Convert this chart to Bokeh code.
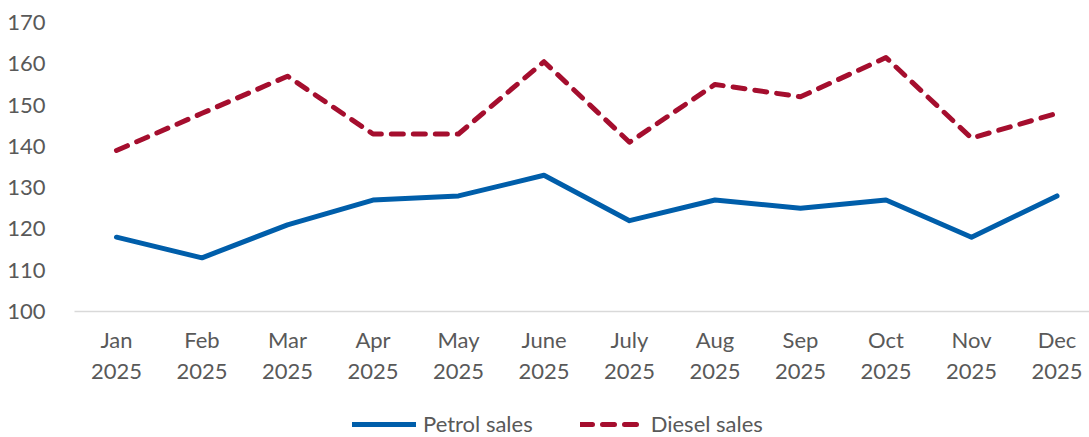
from bokeh.plotting import figure
from bokeh.models import Range1d, FixedTicker, Legend, LegendItem
from bokeh.layouts import column
from bokeh.embed import file_html
from bokeh.resources import INLINE

months = ["Jan", "Feb", "Mar", "Apr", "May", "June", "July", "Aug", "Sep", "Oct", "Nov", "Dec"]
year = "2025"
petrol = [118, 113, 121, 127, 128, 133, 122, 127, 125, 127, 118, 128]
diesel = [139, 148, 157, 143, 143, 160.5, 141, 155, 152, 161.5, 142, 148]
y_ticks = [100, 110, 120, 130, 140, 150, 160, 170]
series_names = ["Petrol sales", "Diesel sales"]

FONT = "Lato"
FS = "22px"
TXT = "#595959"
BLUE = "#005EAA"
RED = "#A50E2E"

xs = list(range(len(months)))

p = figure(width=1089, height=390, output_backend="svg", toolbar_location=None,
           x_range=Range1d(-0.491, 11.38), y_range=Range1d(100, 170),
           min_border_left=74, min_border_right=0, min_border_top=22, min_border_bottom=79)
p.outline_line_color = None
p.grid.visible = False
p.background_fill_color = "white"

line_styles = [dict(line_color=BLUE, line_width=5, line_cap="round", line_join="round"),
               dict(line_color=RED, line_width=5, line_cap="round", line_join="round",
                    line_dash="12 10")]

p.line(xs, petrol, **line_styles[0])
p.line(xs, diesel, **line_styles[1])

p.yaxis.ticker = FixedTicker(ticks=y_ticks)
p.yaxis.axis_line_color = None
p.yaxis.major_tick_line_color = None
p.yaxis.minor_tick_line_color = None
p.yaxis.major_label_standoff = 23
p.yaxis.major_label_text_font = FONT
p.yaxis.major_label_text_font_size = FS
p.yaxis.major_label_text_color = TXT

p.xaxis.ticker = FixedTicker(ticks=xs)
p.xaxis.major_label_overrides = {i: f"{m}\n{year}" for i, m in enumerate(months)}
p.xaxis.axis_line_color = "#d9d9d9"
p.xaxis.axis_line_width = 1.5
p.xaxis.major_tick_line_color = None
p.xaxis.minor_tick_line_color = None
p.xaxis.major_label_standoff = 8
p.xaxis.major_label_text_font = FONT
p.xaxis.major_label_text_font_size = FS
p.xaxis.major_label_text_color = TXT
p.xaxis.major_label_text_line_height = 1.15

# legend strip below the chart (its frame is aligned with the chart's frame by the column)
lg = figure(width=1089, height=47, output_backend="svg", toolbar_location=None,
            x_axis_type=None, y_axis_type=None,
            x_range=Range1d(100, 101), y_range=Range1d(0, 1),
            min_border_left=0, min_border_right=0, min_border_top=0, min_border_bottom=0)
lg.outline_line_color = None
lg.grid.visible = False
lr1 = lg.line(xs, petrol, **line_styles[0])
lr2 = lg.line(xs, diesel, **line_styles[1])

legend = Legend(items=[LegendItem(label=series_names[0], renderers=[lr1]),
                       LegendItem(label=series_names[1], renderers=[lr2])],
                location=(278, 0), orientation="horizontal",
                border_line_alpha=0, background_fill_alpha=0, padding=0, margin=0,
                spacing=47, glyph_width=64, glyph_height=20, label_height=20,
                label_standoff=7, label_text_font=FONT, label_text_font_size=FS,
                label_text_color=TXT)
lg.add_layout(legend, "center")

layout = column(p, lg, spacing=0)
open("out.html", "w").write(file_html(layout, INLINE))
